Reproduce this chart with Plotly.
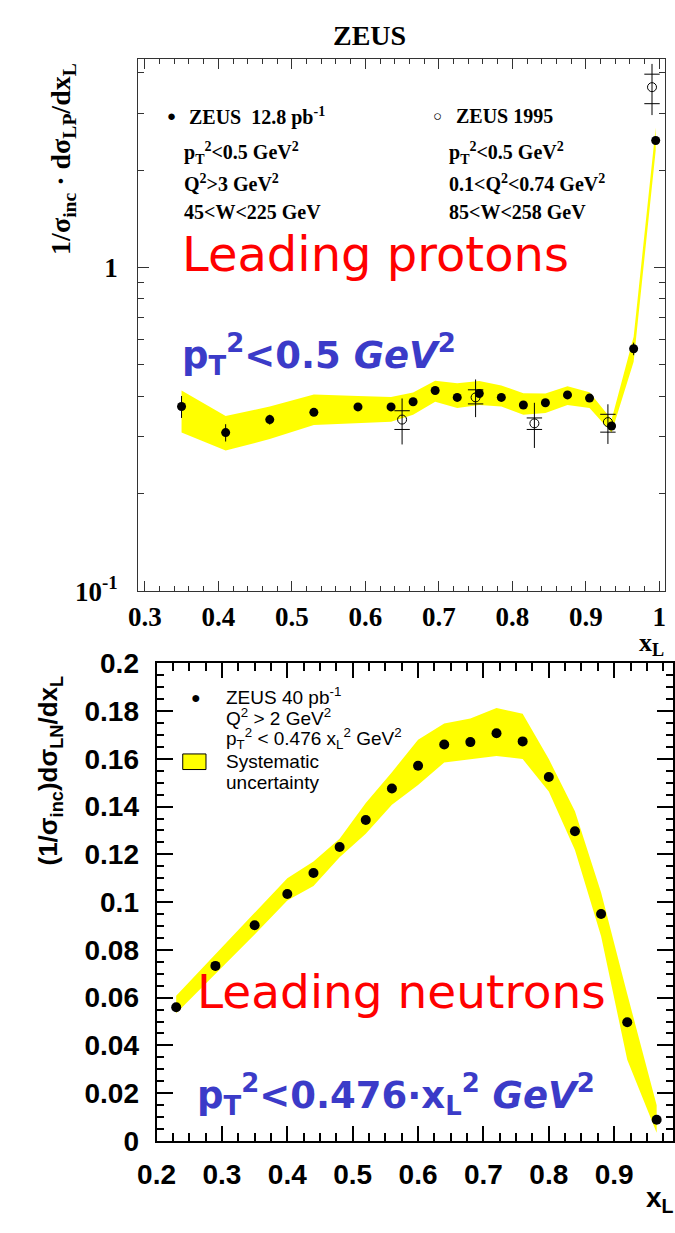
import plotly.graph_objects as go

W, H = 675, 1233

# ---------------- Leading protons (top) ----------------
xl_p = [0.35, 0.41, 0.47, 0.53, 0.59, 0.635, 0.665, 0.695, 0.725, 0.755,
        0.785, 0.815, 0.845, 0.875, 0.905, 0.935, 0.965, 0.995]
val_p = [0.372, 0.309, 0.339, 0.357, 0.371, 0.371, 0.385, 0.417, 0.397, 0.408,
         0.397, 0.376, 0.382, 0.404, 0.395, 0.324, 0.561, 2.47]
err_p = [0.029, 0.019, 0.012, 0.006, 0.005, 0.005, 0.005, 0.006, 0.005, 0.006,
         0.005, 0.005, 0.005, 0.006, 0.005, 0.005, 0.025, 0.06]
sys_hi_p = [0.417, 0.348, 0.372, 0.405, 0.401, 0.398, 0.411, 0.447, 0.439, 0.446,
            0.432, 0.409, 0.408, 0.430, 0.412, 0.339, 0.611, 2.71]
sys_lo_p = [0.309, 0.272, 0.295, 0.326, 0.331, 0.334, 0.351, 0.385, 0.368, 0.376,
            0.372, 0.351, 0.355, 0.376, 0.368, 0.309, 0.512, 2.30]

xl_95 = [0.65, 0.75, 0.83, 0.93, 0.99]
val_95 = [0.339, 0.397, 0.330, 0.333, 3.61]
tot_hi_95 = [0.394, 0.451, 0.382, 0.378, 4.26]
tot_lo_95 = [0.284, 0.345, 0.277, 0.285, 2.96]
stat_hi_95 = [0.361, 0.419, 0.343, 0.352, 3.96]
stat_lo_95 = [0.316, 0.379, 0.316, 0.310, 3.21]

# ---------------- Leading neutrons (bottom) ----------------
xl_n = [0.23, 0.29, 0.35, 0.40, 0.44, 0.48, 0.52, 0.56, 0.60, 0.64,
        0.68, 0.72, 0.76, 0.80, 0.84, 0.88, 0.92, 0.965]
val_n = [0.0560, 0.0733, 0.0903, 0.1034, 0.1122, 0.1231, 0.1344, 0.1476, 0.1571, 0.1660,
         0.1670, 0.1707, 0.1673, 0.1524, 0.1297, 0.0950, 0.0497, 0.0089]
sys_hi_n = [0.0608, 0.0782, 0.0959, 0.1100, 0.1170, 0.1265, 0.1415, 0.1544, 0.1680, 0.1748,
            0.1769, 0.1813, 0.1789, 0.1599, 0.1380, 0.1040, 0.0615, 0.0150]
sys_lo_n = [0.0535, 0.0700, 0.0864, 0.1007, 0.1068, 0.1188, 0.1286, 0.1408, 0.1490, 0.1585,
            0.1600, 0.1612, 0.1599, 0.1463, 0.1218, 0.0857, 0.0340, 0.0034]

top_x_ticks = [0.3, 0.4, 0.5, 0.6, 0.7, 0.8, 0.9, 1.0]
top_x_ticktext = ["0.3", "0.4", "0.5", "0.6", "0.7", "0.8", "0.9", "1"]
top_y_ticks = [0.1, 1]
top_y_ticktext = ["10<sup>-1</sup>", "1"]
top_y_minor = [0.2, 0.3, 0.4, 0.5, 0.6, 0.7, 0.8, 0.9, 2, 3, 4]
bot_x_ticks = [0.2, 0.3, 0.4, 0.5, 0.6, 0.7, 0.8, 0.9]
bot_y_ticks = [0, 0.02, 0.04, 0.06, 0.08, 0.1, 0.12, 0.14, 0.16, 0.18, 0.2]
bot_y_ticktext = ["0", "0.02", "0.04", "0.06", "0.08", "0.1", "0.12", "0.14", "0.16", "0.18", "0.2"]

YELLOW = "#ffff00"
SERIF = "Liberation Serif"
SANS = "Liberation Sans"
HAND = "DejaVu Sans"
RED = "#ff0000"
BLUE = "#3b3bc8"


def px(x):
    return x / W


def py(y):
    return 1 - y / H


fig = go.Figure()

# top band
fig.add_trace(go.Scatter(
    x=xl_p + xl_p[::-1], y=sys_hi_p + sys_lo_p[::-1],
    fill="toself", fillcolor=YELLOW, line=dict(width=0, color=YELLOW),
    mode="lines", xaxis="x", yaxis="y", hoverinfo="skip", showlegend=False))
# top filled points
fig.add_trace(go.Scatter(
    x=xl_p, y=val_p, mode="markers",
    marker=dict(symbol="circle", size=9, color="black"),
    error_y=dict(type="data", array=err_p, color="black", thickness=1, width=0),
    xaxis="x", yaxis="y", showlegend=False))
# 1995 open points: total error
fig.add_trace(go.Scatter(
    x=xl_95, y=val_95, mode="markers",
    marker=dict(symbol="circle-open", size=9, color="black", line=dict(width=1)),
    error_y=dict(type="data", symmetric=False,
                 array=[h - v for h, v in zip(tot_hi_95, val_95)],
                 arrayminus=[v - l for l, v in zip(tot_lo_95, val_95)],
                 color="black", thickness=1, width=0),
    xaxis="x", yaxis="y", showlegend=False))
# stat error marks
fig.add_trace(go.Scatter(
    x=xl_95 + xl_95, y=stat_hi_95 + stat_lo_95, mode="markers",
    marker=dict(symbol="line-ew", size=11, line=dict(width=1, color="black")),
    xaxis="x", yaxis="y", showlegend=False, hoverinfo="skip"))

# bottom band
fig.add_trace(go.Scatter(
    x=xl_n + xl_n[::-1], y=sys_hi_n + sys_lo_n[::-1],
    fill="toself", fillcolor=YELLOW, line=dict(width=0, color=YELLOW),
    mode="lines", xaxis="x2", yaxis="y2", hoverinfo="skip", showlegend=False))
fig.add_trace(go.Scatter(
    x=xl_n, y=val_n, mode="markers",
    marker=dict(symbol="circle", size=10, color="black"),
    xaxis="x2", yaxis="y2", showlegend=False))

fig.update_layout(
    width=W, height=H, autosize=False,
    margin=dict(l=0, r=0, t=0, b=0),
    paper_bgcolor="white", plot_bgcolor="white",
    showlegend=False,
    xaxis=dict(
        domain=[px(123), px(667)], range=[0.291, 1.008], anchor="y",
        tickvals=top_x_ticks, ticktext=top_x_ticktext,
        tickfont=dict(family=SERIF, size=27, color="black", weight="bold"),
        ticks="inside", ticklen=10, tickwidth=1, tickcolor="#333",
        minor=dict(dtick=0.02, tick0=0.3, ticks="inside", ticklen=5, tickwidth=1, tickcolor="#333"),
        showline=True, linecolor="#333", linewidth=1, mirror="allticks",
        showgrid=False, zeroline=False, ticklabelstandoff=1,
    ),
    yaxis=dict(
        domain=[py(591), py(45)], type="log", range=[-1, 0.645], anchor="x",
        tickvals=top_y_ticks, ticktext=top_y_ticktext,
        tickfont=dict(family=SERIF, size=27, color="black", weight="bold"),
        ticks="inside", ticklen=11, tickwidth=1, tickcolor="#333",
        minor=dict(tickvals=top_y_minor, ticks="inside", ticklen=6, tickwidth=1, tickcolor="#333"),
        showline=True, linecolor="#333", linewidth=1, mirror="allticks",
        showgrid=False, zeroline=False, ticklabelstandoff=14,
    ),
    xaxis2=dict(
        domain=[px(142), 1.0], range=[0.2, 0.99], anchor="y2",
        tickvals=bot_x_ticks,
        tickfont=dict(family=SANS, size=28, color="black", weight="bold"),
        ticks="inside", ticklen=15, tickwidth=1.5, tickcolor="black",
        minor=dict(dtick=0.025, tick0=0.2, ticks="inside", ticklen=8, tickwidth=1.5, tickcolor="black"),
        showline=True, linecolor="black", linewidth=2, mirror="allticks",
        showgrid=False, zeroline=False, ticklabelstandoff=7,
    ),
    yaxis2=dict(
        domain=[py(1155), py(665)], range=[0, 0.2], anchor="x2",
        tickvals=bot_y_ticks, ticktext=bot_y_ticktext,
        tickfont=dict(family=SANS, size=28, color="black", weight="bold"),
        ticks="inside", ticklen=16, tickwidth=1.5, tickcolor="black",
        minor=dict(dtick=0.005, tick0=0, ticks="inside", ticklen=7, tickwidth=1.5, tickcolor="black"),
        showline=True, linecolor="black", linewidth=2, mirror="allticks",
        showgrid=False, zeroline=False, ticklabelstandoff=10,
    ),
)

ann = []


def add(text, x, y, size, family, color="black", xanchor="left", yanchor="middle",
        angle=0, bold=False):
    ann.append(dict(
        text=text, x=px(x), y=py(y), xref="paper", yref="paper",
        xanchor=xanchor, yanchor=yanchor, showarrow=False, textangle=angle,
        font=dict(family=family, size=size, color=color, weight="bold" if bold else "normal")))


# titles
add("ZEUS", 362, 21, 28, SERIF, xanchor="center", bold=True)
add("1/σ<sub>inc</sub> · dσ<sub>LP</sub>/dx<sub>L</sub>", 45, 148, 28, SERIF,
    xanchor="center", angle=-90, bold=True)
add("x<sub>L</sub>", 653, 645, 26, SERIF, xanchor="center", bold=True)

# top legend
add("●", 157, 104, 15, SERIF, xanchor="center")
add("ZEUS  12.8 pb<sup>-1</sup>", 173, 104, 20, SERIF, bold=True)
add("p<sub>T</sub><sup>2</sup><0.5 GeV<sup>2</sup>", 168, 142, 20, SERIF, bold=True)
add("Q<sup>2</sup>>3 GeV<sup>2</sup>", 168, 172, 20, SERIF, bold=True)
add("45<W<225 GeV", 168, 202, 20, SERIF, bold=True)
add("○", 432, 104, 15, SERIF, xanchor="center")
add("ZEUS 1995", 449, 104, 20, SERIF, bold=True)
add("p<sub>T</sub><sup>2</sup><0.5 GeV<sup>2</sup>", 442, 142, 20, SERIF, bold=True)
add("0.1<Q<sup>2</sup><0.74 GeV<sup>2</sup>", 442, 172, 20, SERIF, bold=True)
add("85<W<258 GeV", 442, 202, 20, SERIF, bold=True)

add("Leading protons", 166, 245, 48, HAND, color=RED)
add("p<sub>T</sub><sup>2</sup><0.5 <i>GeV</i><sup>2</sup>", 166, 348, 37, HAND, color=BLUE, bold=True)

# bottom
add("(1/σ<sub>inc</sub>)dσ<sub>LN</sub>/dx<sub>L</sub>", 32, 775, 26, SANS,
    xanchor="center", angle=-90, bold=True)
add("x<sub>L</sub>", 662, 1215, 28, SANS, xanchor="center", bold=True)

add("●", 183, 700, 16, SANS, xanchor="center")
add("ZEUS 40 pb<sup>-1</sup>", 212, 699, 19, SANS)
add("Q<sup>2</sup> > 2 GeV<sup>2</sup>", 212, 720, 19, SANS)
add("p<sub>T</sub><sup>2</sup> < 0.476 x<sub>L</sub><sup>2</sup> GeV<sup>2</sup>", 212, 742, 19, SANS)
add("Systematic", 212, 766, 19, SANS)
add("uncertainty", 212, 787, 19, SANS)

add("Leading neutrons", 182, 1002, 47, HAND, color=RED)
add("p<sub>T</sub><sup>2</sup><0.476·x<sub>L</sub><sup>2</sup> <i>GeV</i><sup>2</sup>", 182, 1107, 37,
    HAND, color=BLUE, bold=True)

fig.update_layout(annotations=ann)

fig.add_shape(type="rect", xref="paper", yref="paper",
              x0=px(169), x1=px(193), y0=py(774), y1=py(758),
              fillcolor=YELLOW, line=dict(color="black", width=1))

fig.write_html("out.html")
